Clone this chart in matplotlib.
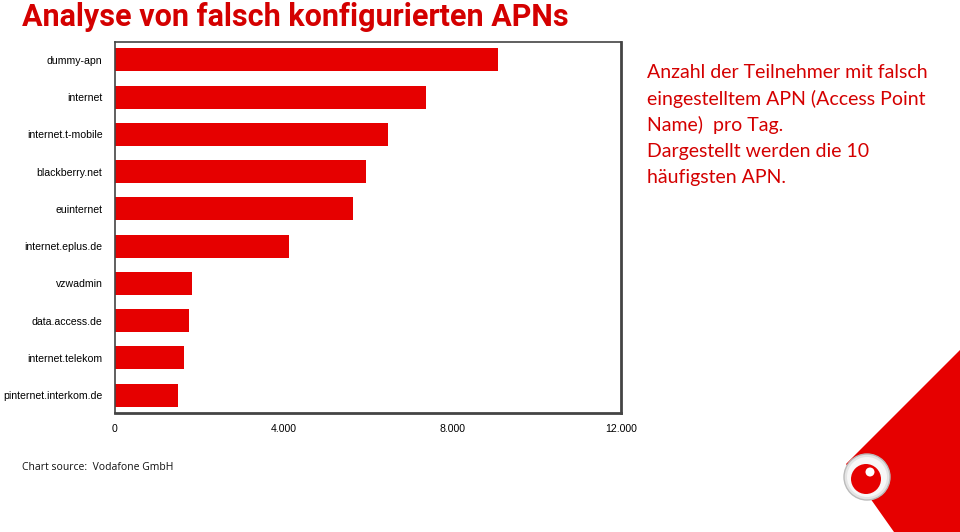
import matplotlib
matplotlib.use('Agg')
import matplotlib.pyplot as plt
from matplotlib.patches import Polygon, Circle

# ---------------------------------------------------------------
# Daten
# ---------------------------------------------------------------
apns = ['dummy-apn', 'internet', 'internet.t-mobile', 'blackberry.net',
        'euinternet', 'internet.eplus.de', 'vzwadmin', 'data.access.de',
        'internet.telekom', 'pinternet.interkom.de']
counts = [9080, 7370, 6470, 5950, 5640, 4130, 1830, 1750, 1640, 1490]
x_ticks = [0, 4000, 8000, 12000]
x_tick_labels = ['0', '4.000', '8.000', '12.000']

RED = '#e60000'
TXT_RED = '#d40000'

W, H = 960, 532
fig = plt.figure(figsize=(W / 100, H / 100), dpi=100)
fig.patch.set_facecolor('white')

# ---------------------------------------------------------------
# Balkendiagramm
# ---------------------------------------------------------------
ax = fig.add_axes([115 / W, (H - 413) / H, 506 / W, 371 / H])
ax.barh(range(len(apns)), counts, height=0.62, color=RED, edgecolor='none')
ax.set_xlim(0, 12000)
ax.set_ylim(len(apns) - 0.52, -0.48)
ax.set_yticks(range(len(apns)))
ax.set_yticklabels(apns, fontsize=7.6, family='Liberation Sans')
ax.set_xticks(x_ticks)
ax.set_xticklabels(x_tick_labels, fontsize=7.6, family='Liberation Sans')
ax.tick_params(axis='y', length=0, pad=9)
ax.tick_params(axis='x', length=0, pad=8)
for s in ax.spines.values():
    s.set_color('#444444')
    s.set_linewidth(1.2)
ax.spines['right'].set_linewidth(2)
ax.spines['bottom'].set_linewidth(2)

# ---------------------------------------------------------------
# Texte
# ---------------------------------------------------------------
fig.text(22 / W, 1 - 17 / H, 'Analyse von falsch konfigurierten APNs',
         color=TXT_RED, fontsize=22, fontweight='bold', va='center',
         family='Roboto')

desc = ['Anzahl der Teilnehmer mit falsch',
        'eingestelltem APN (Access Point',
        'Name)  pro Tag.',
        'Dargestellt werden die 10',
        'häufigsten APN.']
for i, line in enumerate(desc):
    fig.text(647 / W, 1 - (72 + i * 26.5) / H, line, color=TXT_RED,
             fontsize=14, va='center', family='Lato')

fig.text(22 / W, 1 - 467 / H, 'Chart source:  Vodafone GmbH', fontsize=7.5,
         va='center', family='Open Sans', color='#111111')

# ---------------------------------------------------------------
# Rote Ecke + Logo
# ---------------------------------------------------------------
deco = fig.add_axes([0, 0, 1, 1], zorder=-1)
deco.set_xlim(0, W)
deco.set_ylim(H, 0)
deco.axis('off')
deco.add_patch(Polygon([(960, 350), (846, 464), (894, 532), (960, 532)],
                       closed=True, color=RED, lw=0))

top = fig.add_axes([0, 0, 1, 1], zorder=5)
top.set_xlim(0, W)
top.set_ylim(H, 0)
top.axis('off')
top.set_aspect('equal')
top.add_patch(Circle((867, 477), 23, facecolor='#e4e4e4', edgecolor='#bbbbbb', lw=1))
top.add_patch(Circle((867, 477), 20, facecolor='#f7f7f7', edgecolor='none'))
top.add_patch(Circle((866, 479), 15, facecolor=RED, edgecolor='none'))
top.add_patch(Circle((870, 472), 4.5, facecolor='white', edgecolor='none'))

fig.savefig('out.png', dpi=100, facecolor='white')
